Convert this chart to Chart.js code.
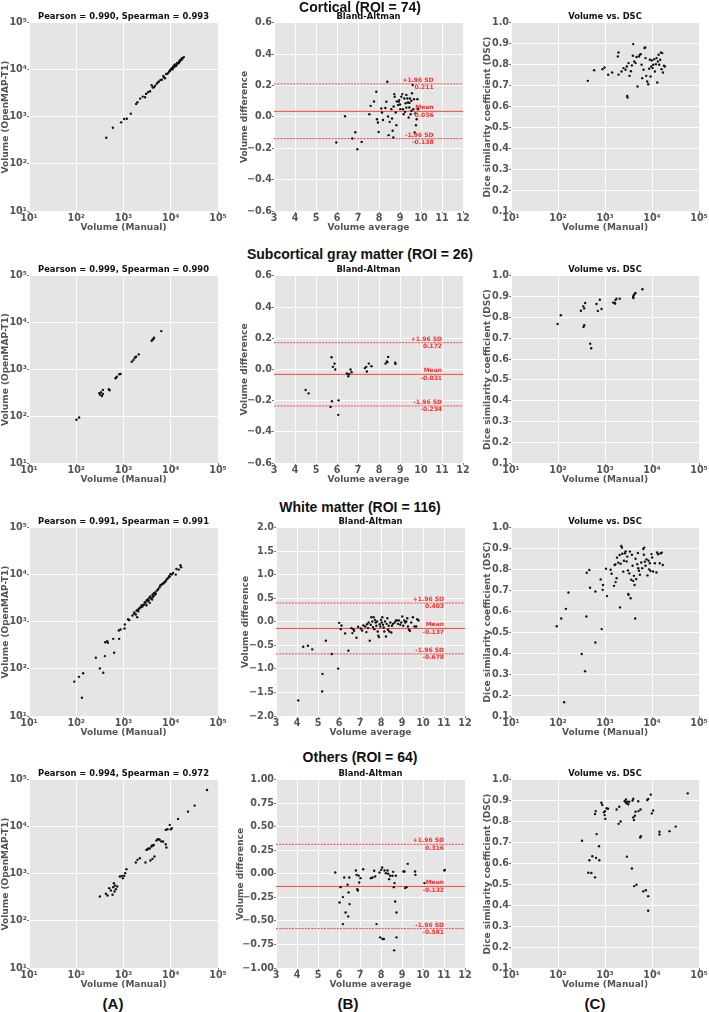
<!DOCTYPE html>
<html>
<head>
<meta charset="utf-8">
<script src="https://cdn.jsdelivr.net/npm/chart.js@4.4.0/dist/chart.umd.min.js"></script>
<style>
  html, body { margin: 0; padding: 0; background: #fff; }
  body { width: 709px; height: 1012px; position: relative; overflow: hidden; }
  .row-title, .col-label {
    position: absolute; transform: translate(-50%, -50%); white-space: nowrap;
    font-family: 'Liberation Sans', Arial, sans-serif; font-weight: bold; line-height: 1; color: #111; z-index: 2;
  }
  .row-title { font-size: 14px; }
  .col-label { font-size: 15px; }
</style>
</head>
<body>
<script>
// ---- summary values ----
const rowNames = ['Cortical', 'Subcortical gray matter', 'White matter', 'Others'];
const roiCounts = [74, 26, 116, 64];
const pearson = ['0.990', '0.999', '0.991', '0.994'];
const spearman = ['0.993', '0.990', '0.991', '0.972'];
const baUpper = [0.211, 0.172, 0.403, 0.316];
const baMean = [0.036, -0.031, -0.137, -0.132];
const baLower = [-0.138, -0.234, -0.678, -0.581];
const colLabels = ['(A)', '(B)', '(C)'];

// ---- tick labels ----
const logTicks = [10, 100, 1000, 10000, 100000];
const logTickLabels = ['10¹', '10²', '10³', '10⁴', '10⁵'];
const baXTicks = [3, 4, 5, 6, 7, 8, 9, 10, 11, 12];
const baXLabels = ['3', '4', '5', '6', '7', '8', '9', '10', '11', '12'];
const baYTicksSmall = [-0.6, -0.4, -0.2, 0, 0.2, 0.4, 0.6];
const baYLabelsSmall = ['−0.6', '−0.4', '−0.2', '0.0', '0.2', '0.4', '0.6'];
const baYTicksWm = [-2, -1.5, -1, -0.5, 0, 0.5, 1, 1.5, 2];
const baYLabelsWm = ['−2.0', '−1.5', '−1.0', '−0.5', '0.0', '0.5', '1.0', '1.5', '2.0'];
const baYTicksOth = [-1, -0.75, -0.5, -0.25, 0, 0.25, 0.5, 0.75, 1];
const baYLabelsOth = ['−1.00', '−0.75', '−0.50', '−0.25', '0.00', '0.25', '0.50', '0.75', '1.00'];
const dscTicks = [0.1, 0.2, 0.3, 0.4, 0.5, 0.6, 0.7, 0.8, 0.9, 1.0];
const dscTickLabels = ['0.1', '0.2', '0.3', '0.4', '0.5', '0.6', '0.7', '0.8', '0.9', '1.0'];

// ---- Cortical ----
const cortVolManual = [432, 596, 893, 1033, 1175, 1426, 1849, 1972, 2244, 2553, 2858, 3306, 3640, 3945, 4150, 4645, 5035, 5637, 6110, 6952, 7535, 8441, 9291, 9912, 10585, 11294, 12236, 13284, 14172, 15112, 16101, 17751, 18934,
  9600, 10200, 10900, 11800, 12600, 13000, 13700, 14600, 15500, 16800, 5300, 6500, 7200, 8000, 8800, 4400, 3000, 17200, 11000, 12000];
const cortVolOpenmap = [362, 592, 770, 906, 920, 1178, 1897, 2058, 2462, 2718, 2630, 3365, 3532, 4745, 4227, 4591, 5070, 5679, 6166, 7498, 6691, 8281, 9292, 10085, 10947, 11886, 12277, 12890, 13999, 15453, 16478, 17624, 18810,
  9500, 10500, 10400, 11500, 13100, 12300, 14200, 14000, 15000, 16300, 5400, 6200, 7000, 8200, 8600, 4300, 3100, 17900, 11200, 12800];
const cortBaAvg = [5.968, 6.381, 6.73, 6.873, 6.968, 7.175, 7.54, 7.603, 7.762, 7.873, 7.905, 7.952, 7.984, 8.111, 8.143, 8.19, 8.302, 8.349, 8.397, 8.429,
  8.46, 8.508, 8.587, 8.619, 8.651, 8.683, 8.698, 8.73, 8.746, 8.794, 8.825, 8.905, 8.937, 8.968, 9.016, 9.063, 9.111, 9.143, 9.175, 9.206,
  9.238, 9.27, 9.302, 9.349, 9.381, 9.413, 9.444, 9.476, 9.508, 9.54, 9.571, 9.603, 9.635, 9.667, 9.698, 9.73, 9.762, 9.794, 9.825, 9.857,
  9.0, 9.3, 9.55, 8.85, 9.45];
const cortBaDiff = [-0.163, 0.005, -0.137, -0.097, -0.206, -0.159, 0.018, 0.071, 0.099, 0.161, -0.014, -0.035, -0.095, 0.054, 0.029, -0.019, 0.057, 0.097, 0.225, 0.003,
  -0.116, -0.031, 0.05, -0.01, -0.088, -0.131, 0.067, 0.146, 0.129, 0.029, -0.052, 0.076, 0.097, 0.108, 0.05, 0.129, 0.146, 0.05, 0.018, 0.118,
  0.033, 0.088, 0.141, 0.118, 0.093, -0.003, 0.061, 0.118, 0.018, 0.103, 0.152, 0.204, 0.05, 0.114, -0.099, 0.022, -0.052, -0.014, 0.114, 0.05,
  0.08, 0.06, 0.04, 0.10, 0.09];
const cortDscVol = [431, 588, 885, 976, 1167, 1421, 1875, 1940, 1940, 2249, 2479, 2735, 2918, 2965, 3017, 3168, 3326, 3553, 3732, 3917,
  3981, 4187, 4469, 4690, 4923, 5257, 5522, 5800, 5990, 6191, 6605, 6937, 7165, 7290, 7530, 7907, 8311, 8726, 9016, 9326,
  9636, 9956, 10286, 10628, 11165, 11534, 12109, 12512, 12925, 13361, 13804, 14260, 14983, 15481, 15994, 16526, 17075, 17943, 18850];
const cortDsc = [0.723, 0.774, 0.779, 0.787, 0.752, 0.763, 0.84, 0.859, 0.753, 0.768, 0.784, 0.776, 0.792, 0.651, 0.643, 0.808, 0.747, 0.769, 0.797, 0.843,
  0.899, 0.816, 0.808, 0.837, 0.696, 0.84, 0.848, 0.851, 0.8, 0.736, 0.776, 0.88, 0.883, 0.832, 0.747, 0.72, 0.707, 0.781, 0.824, 0.744,
  0.792, 0.821, 0.784, 0.8, 0.827, 0.768, 0.803, 0.832, 0.715, 0.816, 0.848, 0.8, 0.824, 0.859, 0.779, 0.856, 0.763, 0.795, 0.792];

// ---- Subcortical gray matter ----
const subVolManual = [101, 115, 308, 334, 367, 350, 367, 491, 507, 679, 724, 811, 865, 1497, 1624, 1733, 1849, 2105, 3945, 4150, 4426, 6310, 320, 690, 4300, 1790];
const subVolOpenmap = [84, 94, 310, 326, 366, 272, 301, 378, 360, 649, 703, 789, 802, 1469, 1596, 1788, 1879, 2105, 4122, 4397, 4772, 6622, 290, 660, 4500, 1830];
const subBaAvg = [4.506, 4.648, 5.694, 5.758, 5.742, 5.805, 5.884, 5.916, 6.074, 6.059, 6.471, 6.534, 6.645, 6.693, 7.327, 7.39, 7.422, 7.517, 7.643, 8.309, 8.373, 8.436, 8.769, 8.785, 6.58, 8.40];
const subBaDiff = [-0.132, -0.153, -0.24, -0.204, 0.079, 0.017, 0.038, 0.0, -0.198, -0.291, -0.026, -0.043, 0.0, -0.017, 0.009, 0.017, -0.013, 0.038, 0.021, 0.038, 0.051, 0.081, 0.043, 0.036, -0.03, 0.047];
const subDscVol = [98, 115, 307, 344, 361, 379, 349, 361, 484, 508, 660, 704, 777, 843, 1491, 1617, 1670, 1754, 2065, 3963, 4093, 4302, 4443, 6256, 4027, 1640];
const subDsc = [0.769, 0.811, 0.833, 0.854, 0.844, 0.87, 0.755, 0.763, 0.674, 0.652, 0.865, 0.832, 0.886, 0.841, 0.872, 0.87, 0.884, 0.891, 0.891, 0.899, 0.907, 0.915, 0.918, 0.936, 0.894, 0.867];

// ---- White matter ----
const wmVolManual = [91, 114, 140, 132, 260, 316, 372, 403, 410, 452, 467, 605, 635, 809, 796, 865, 1050, 1067, 1318, 1549, 1680, 1823, 1946, 2042, 2144,
  2323, 2518, 2733, 2917, 3060, 3213, 3428, 3597, 3845, 4036, 4237, 4523, 4824, 5144, 6051, 6563, 7115, 7713, 8506, 9227, 9844, 12757, 13185, 14780, 16007, 16531,
  1700, 1900, 2200, 2400, 2600, 2800, 3100, 3300, 3500, 3700, 4100, 4400, 4700, 5400, 5800, 6300, 7000, 7500, 8200, 8800, 9500, 10500, 11200, 1250, 2050];
const wmVolOpenmap = [54, 68, 81, 24.5, 173, 103, 83, 188, 372, 391, 360, 438, 221, 438, 659, 692, 727, 885, 1094, 1374, 1491, 1443, 1267, 1698, 1905,
  2065, 2133, 2354, 2553, 2276, 2767, 2858, 2553, 3152, 3005, 3423, 3713, 3963, 4665, 6051, 6459, 6788, 7362, 8390, 9401, 10537, 10200, 13459, 13027, 16092, 14595,
  1600, 1750, 2000, 2250, 2300, 2650, 2900, 3000, 3300, 3500, 3800, 4100, 4300, 5000, 5500, 6100, 6600, 7100, 8000, 8600, 9200, 10300, 11000, 1150, 1850];
const wmBaAvg = [4.06, 4.297, 4.519, 4.725, 5.199, 5.215, 5.373, 5.658, 5.959, 6.006, 6.085, 6.117, 6.291, 6.449, 6.592, 6.639, 6.687, 6.718, 6.829, 6.908,
  7.035, 7.098, 7.161, 7.256, 7.304, 7.335, 7.383, 7.415, 7.462, 7.51, 7.541, 7.589, 7.62, 7.652, 7.684, 7.715, 7.747, 7.778, 7.81, 7.842,
  7.873, 7.905, 7.937, 7.968, 8.0, 8.032, 8.063, 8.095, 8.127, 8.158, 8.19, 8.237, 8.269, 8.301, 8.332, 8.364, 8.396, 8.443, 8.491, 8.522,
  8.57, 8.649, 8.712, 8.759, 8.807, 8.854, 8.918, 8.965, 9.013, 9.06, 9.108, 9.155, 9.203, 9.25, 9.282, 9.33, 9.377, 9.44, 9.519, 9.598,
  9.677, 9.725, 9.788];
const wmBaDiff = [-1.668, -0.526, -0.504, -0.582, -1.478, -1.104, -0.399, -0.681, -0.991, -0.018, -0.152, -0.074, -0.243, -0.61, -0.131, -0.236, -0.152, -0.187, -0.335, -0.102,
  -0.137, -0.18, -0.074, -0.095, -0.215, -0.046, -0.13, -0.011, -0.399, -0.06, 0.102, 0.011, -0.109, 0.102, -0.152, 0.046, -0.011, -0.081, 0.011, -0.201,
  -0.293, -0.321, -0.046, -0.095, 0.046, -0.011, 0.102, -0.06, -0.116, -0.201, 0.011, -0.307, -0.039, 0.081, -0.166, -0.081, -0.201, -0.011, -0.222, -0.081,
  -0.039, -0.011, 0.032, 0.032, -0.039, 0.032, -0.06, -0.011, 0.116, -0.081, 0.032, -0.011, 0.011, 0.081, -0.095, -0.166, -0.187, -0.011, 0.102, -0.095,
  -0.095, 0.06, 0.032];
const wmDscVol = [94, 117, 147, 167, 135, 320, 377, 402, 408, 465, 481, 624, 624, 809, 850, 907, 893, 1050, 1103, 1318,
  1384, 1552, 1603, 1656, 1683, 1768, 1796, 1918, 2047, 2080, 2149, 2219, 2293, 2330, 2449, 2529, 2655, 2743, 2884, 2979,
  3078, 3129, 3180, 3284, 3391, 3502, 3617, 3735, 3859, 3985, 4117, 4252, 4392, 4462, 4610, 4850, 5011, 5093, 5262, 5524,
  5893, 6190, 6498, 6712, 6823, 7049, 7282, 7642, 8032, 8430, 8710, 8997, 9294, 9757, 10082, 10581, 11477, 12450, 12873, 13511,
  14653, 15384, 16151, 16978];
const wmDsc = [0.53, 0.567, 0.613, 0.691, 0.166, 0.397, 0.314, 0.576, 0.786, 0.799, 0.714, 0.696, 0.452, 0.754, 0.516, 0.727, 0.704, 0.805, 0.674, 0.8,
  0.781, 0.723, 0.823, 0.826, 0.741, 0.76, 0.858, 0.834, 0.871, 0.62, 0.829, 0.914, 0.906, 0.877, 0.791, 0.843, 0.879, 0.888, 0.84, 0.863,
  0.797, 0.684, 0.68, 0.783, 0.887, 0.664, 0.752, 0.872, 0.819, 0.747, 0.771, 0.727, 0.567, 0.853, 0.756, 0.827, 0.88, 0.807, 0.795, 0.776,
  0.835, 0.807, 0.899, 0.872, 0.906, 0.839, 0.819, 0.85, 0.773, 0.843, 0.802, 0.831, 0.794, 0.875, 0.859, 0.792, 0.831, 0.787, 0.883, 0.874,
  0.831, 0.879, 0.882, 0.823];

// ---- Others ----
const othVolManual = [316, 424, 459, 498, 540, 586, 605, 625, 656, 689, 735, 646, 838, 923, 968, 1033, 1084, 1157, 1823, 1977,
  2215, 2917, 3060, 3213, 3373, 3597, 3716, 3905, 4036, 4237, 4374, 4102, 4523, 4978, 5312, 5574, 5855, 6349, 6887, 7839,
  8092, 7839, 8506, 9527, 10005, 10505, 14287, 23245, 32124, 58601];
const othVolOpenmap = [333, 379, 349, 500, 446, 361, 525, 638, 570, 476, 543, 425, 885, 914, 816, 914, 1042, 1267, 1754, 2000,
  2170, 1754, 3260, 3365, 3481, 3481, 1936, 3841, 4027, 4027, 4158, 2099, 2354, 5156, 5500, 5500, 5325, 4902, 4902, 4305,
  3657, 8671, 8958, 11073, 8958, 9401, 14862, 21232, 28512, 61357];
const othBaAvg = [5.821, 6.027, 6.074, 6.185, 6.185, 6.249, 6.312, 6.407, 6.439, 6.455, 6.487, 6.502, 6.804, 6.835, 6.867, 6.899, 6.931, 6.962, 7.025, 7.152,
  7.517, 7.596, 7.675, 7.723, 7.786, 7.929, 7.961, 8.008, 8.056, 8.071, 8.135, 8.166, 8.23, 8.309, 8.341, 8.388, 8.436, 8.547, 8.578, 8.61,
  8.626, 8.642, 8.674, 8.705, 8.737, 8.737, 9.07, 9.117, 9.149, 9.212, 9.276, 9.624, 9.64, 10.068, 11.019, 11.035];
const othBaDiff = [0.016, -0.303, -0.14, -0.246, -0.533, -0.037, -0.409, -0.115, -0.451, -0.196, -0.037, -0.32, 0.037, -0.009, -0.161, -0.175, -0.019, -0.09, -0.044, 0.051,
  -0.044, -0.037, 0.034, -0.027, -0.533, 0.016, -0.674, 0.044, 0.069, -0.692, -0.692, 0.037, 0.009, 0.037, 0.002, -0.055, -0.019, -0.019, 0.023, -0.14,
  -0.812, -0.097, -0.292, -0.019, -0.409, -0.674, 0.027, 0.027, -0.15, -0.14, 0.108, 0.027, -0.009, -0.097, 0.037, 0.044];
const othDscVol = [325, 443, 465, 513, 538, 613, 613, 634, 644, 665, 746, 758, 836, 877, 952, 984, 1000, 1016, 1084, 1157,
  1765, 1948, 2012, 2149, 2610, 2697, 2786, 2878, 2973, 2925, 3124, 3281, 3735, 3860, 3988, 3988, 4119, 4186, 4325, 4467,
  4690, 5091, 5174, 5704, 5613, 5797, 6497, 7399, 7903, 8298, 8298, 8298, 9445, 9912, 10582, 14421, 14421, 23497, 31970, 57546];
const othDsc = [0.709, 0.556, 0.616, 0.555, 0.635, 0.534, 0.837, 0.851, 0.627, 0.741, 0.683, 0.616, 0.891, 0.88, 0.846, 0.832, 0.851, 0.814, 0.865, 0.862,
  0.859, 0.79, 0.872, 0.801, 0.899, 0.896, 0.907, 0.888, 0.896, 0.633, 0.884, 0.896, 0.576, 0.902, 0.91, 0.821, 0.808, 0.492, 0.829, 0.848,
  0.499, 0.898, 0.851, 0.859, 0.725, 0.731, 0.467, 0.472, 0.904, 0.909, 0.444, 0.374, 0.93, 0.84, 0.854, 0.752, 0.739, 0.755, 0.777, 0.936];

// ---- layout ----
const TITLE_H = 11, XAX_H = 22, PAD_R = 10;
const rows = [
  { top: 23,  bottom: 211, titleY: 7,   baLeft: 274, baYw: 35, noteX: 10.6, baMax: 0.6, baTicks: baYTicksSmall, baLabels: baYLabelsSmall,
    manual: cortVolManual, openmap: cortVolOpenmap, baAvg: cortBaAvg, baDiff: cortBaDiff, dscVol: cortDscVol, dsc: cortDsc },
  { top: 276, bottom: 463, titleY: 254, baLeft: 274, baYw: 35, noteX: 11.0, baMax: 0.6, baTicks: baYTicksSmall, baLabels: baYLabelsSmall,
    manual: subVolManual, openmap: subVolOpenmap, baAvg: subBaAvg, baDiff: subBaDiff, dscVol: subDscVol, dsc: subDsc },
  { top: 528, bottom: 716, titleY: 507, baLeft: 276, baYw: 36, noteX: 11.0, baMax: 2, baTicks: baYTicksWm, baLabels: baYLabelsWm,
    manual: wmVolManual, openmap: wmVolOpenmap, baAvg: wmBaAvg, baDiff: wmBaDiff, dscVol: wmDscVol, dsc: wmDsc },
  { top: 780, bottom: 968, titleY: 757, baLeft: 276, baYw: 41, noteX: 11.0, baMax: 1, baTicks: baYTicksOth, baLabels: baYLabelsOth,
    manual: othVolManual, openmap: othVolOpenmap, baAvg: othBaAvg, baDiff: othBaDiff, dscVol: othDscVol, dsc: othDsc }
];

Chart.defaults.font.family = "'DejaVu Sans', sans-serif";
Chart.defaults.font.weight = 'bold';
Chart.defaults.animation = false;
Chart.defaults.responsive = false;

// grey ggplot-like plot background
Chart.register({
  id: 'plotBg',
  beforeDraw(chart) {
    const { ctx, chartArea: a } = chart;
    ctx.save();
    ctx.fillStyle = '#e5e5e5';
    ctx.fillRect(a.left, a.top, a.right - a.left, a.bottom - a.top);
    ctx.restore();
  }
});

// red text beside the Bland-Altman lines
Chart.register({
  id: 'baNotes',
  afterDatasetsDraw(chart, args, opts) {
    if (!opts || !opts.items) return;
    const { ctx, scales: { x, y } } = chart;
    const px = x.getPixelForValue(opts.x);
    ctx.save();
    ctx.fillStyle = '#ff2a2a';
    ctx.font = "bold 6px 'DejaVu Sans'";
    ctx.textAlign = 'right';
    opts.items.forEach(it => {
      const py = y.getPixelForValue(it.value);
      ctx.textBaseline = 'bottom';
      ctx.fillText(it.label, px, py - 0.5);
      ctx.textBaseline = 'top';
      ctx.fillText(it.value.toFixed(3), px, py + 0.8);
    });
    ctx.restore();
  }
});

function axis(o) {
  return {
    type: o.log ? 'logarithmic' : 'linear',
    position: o.horizontal ? 'bottom' : 'left',
    min: o.min, max: o.max,
    border: { display: false },
    grid: { color: '#ffffff', lineWidth: 1, drawTicks: true, tickLength: 2, tickColor: '#777777' },
    ticks: { color: '#555555', font: { size: 9.6, weight: 'bold' }, padding: 0, autoSkip: false, maxRotation: 0,
      callback: (v, i) => o.labels[i] },
    title: { display: true, text: o.title, color: '#555555', font: { size: 9, weight: 'bold' }, padding: 0 },
    afterBuildTicks: s => { s.ticks = o.ticks.map(v => ({ value: v })); },
    afterFit: s => { if (o.horizontal) s.height = o.size; else s.width = o.size; }
  };
}

function points(xs, ys) {
  return xs.map((x, i) => ({ x, y: ys[i] }));
}

function dots(xs, ys) {
  return { type: 'scatter', data: points(xs, ys), backgroundColor: '#111111', borderWidth: 0,
    pointRadius: 1.2, pointHoverRadius: 1.2, order: 1 };
}

function hLine(v, dashed) {
  return { type: 'line', data: [{ x: 3, y: v }, { x: 12, y: v }], borderColor: '#ff4040', borderWidth: 1,
    borderDash: dashed ? [2, 1.2] : [], pointRadius: 0, order: 2 };
}

function makePanel(left, right, top, bottom, yw, title, datasets, scales, notes) {
  const canvas = document.createElement('canvas');
  const width = yw + (right - left) + PAD_R;
  const height = TITLE_H + (bottom - top) + XAX_H;
  canvas.width = width;
  canvas.height = height;
  canvas.style.cssText = `position:absolute;left:${left - yw}px;top:${top - TITLE_H}px;width:${width}px;height:${height}px;z-index:1`;
  document.body.appendChild(canvas);
  return new Chart(canvas, {
    type: 'scatter',
    data: { datasets },
    options: {
      layout: { padding: { left: 0, top: 0, right: PAD_R, bottom: 0 } },
      scales,
      plugins: {
        legend: { display: false },
        tooltip: { enabled: false },
        title: { display: true, text: title, color: '#111111', fullSize: false,
          font: { size: 8.4, weight: 'bold', lineHeight: 1.19 }, padding: { top: 0, bottom: 1 } },
        baNotes: notes || {}
      }
    }
  });
}

function addText(cls, text, x, y) {
  const d = document.createElement('div');
  d.className = cls;
  d.textContent = text;
  d.style.left = x + 'px';
  d.style.top = y + 'px';
  document.body.appendChild(d);
}

rows.forEach((r, i) => {
  addText('row-title', `${rowNames[i]} (ROI = ${roiCounts[i]})`, 360, r.titleY);

  // (A) manual vs OpenMAP-T1 volume
  makePanel(29, 218, r.top, r.bottom, 29, `Pearson = ${pearson[i]}, Spearman = ${spearman[i]}`,
    [dots(r.manual, r.openmap)],
    {
      x: axis({ log: true, horizontal: true, min: 10, max: 100000, ticks: logTicks, labels: logTickLabels, title: 'Volume (Manual)', size: XAX_H }),
      y: axis({ log: true, min: 10, max: 100000, ticks: logTicks, labels: logTickLabels, title: 'Volume (OpenMAP-T1)', size: 29 })
    });

  // (B) Bland-Altman
  makePanel(r.baLeft, r.baLeft + 189, r.top, r.bottom, r.baYw, 'Bland-Altman',
    [dots(r.baAvg, r.baDiff), hLine(baUpper[i], true), hLine(baMean[i], false), hLine(baLower[i], true)],
    {
      x: axis({ horizontal: true, min: 3, max: 12, ticks: baXTicks, labels: baXLabels, title: 'Volume average', size: XAX_H }),
      y: axis({ min: -r.baMax, max: r.baMax, ticks: r.baTicks, labels: r.baLabels, title: 'Volume difference', size: r.baYw })
    },
    { x: r.noteX, items: [
      { label: '+1.96 SD', value: baUpper[i] },
      { label: 'Mean', value: baMean[i] },
      { label: '-1.96 SD', value: baLower[i] }
    ] });

  // (C) volume vs DSC
  makePanel(511, 699, r.top, r.bottom, 29, 'Volume vs. DSC',
    [dots(r.dscVol, r.dsc)],
    {
      x: axis({ log: true, horizontal: true, min: 10, max: 100000, ticks: logTicks, labels: logTickLabels, title: 'Volume (Manual)', size: XAX_H }),
      y: axis({ min: 0.1, max: 1.0, ticks: dscTicks, labels: dscTickLabels, title: 'Dice similarity coefficient (DSC)', size: 29 })
    });
});

addText('col-label', colLabels[0], 113, 1003);
addText('col-label', colLabels[1], 348, 1003);
addText('col-label', colLabels[2], 595, 1003);
</script>
</body>
</html>
